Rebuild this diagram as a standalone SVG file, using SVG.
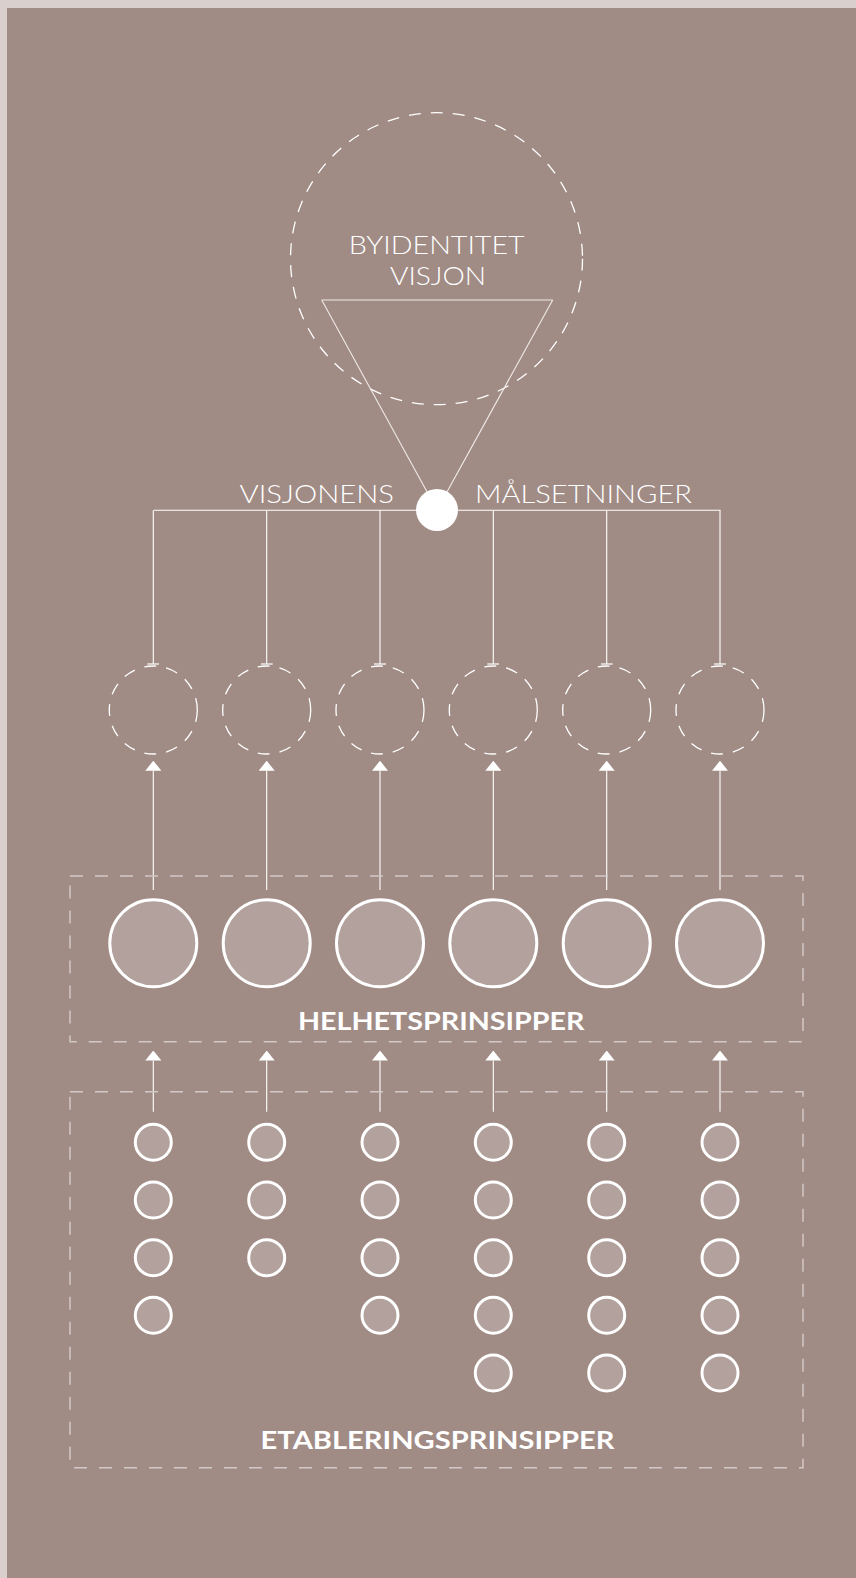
<svg xmlns="http://www.w3.org/2000/svg" width="856" height="1578" viewBox="0 0 856 1578">
<defs>
<style>
.bg{fill:#a08c85}
.frame{fill:#d9d0ce}
.lbl{font-family:Lato,"Open Sans","Liberation Sans",sans-serif;font-weight:300;fill:#ffffff;font-size:25px}
.bold{font-family:Lato,"Open Sans","Liberation Sans",sans-serif;font-weight:700;fill:#ffffff;font-size:25px}
.dashc{fill:none;stroke:#ffffff;stroke-width:1.3;stroke-dasharray:12 10}
.big{fill:#b2a19d;stroke:#ffffff;stroke-width:3}
.small{fill:#b2a19d;stroke:#ffffff;stroke-width:3}
.box{fill:none;stroke:#d2c8c5;stroke-width:1.5;stroke-dasharray:13 12}
.ln{fill:none;stroke:#ffffff;stroke-width:1.1}
.tl{fill:none;stroke:#f0e9e7;stroke-width:1.1}
.arr{fill:none;stroke:#ffffff;stroke-width:1.1;marker-end:url(#ah)}
.tee{fill:none;stroke:#ffffff;stroke-width:1.1;marker-end:url(#tee)}
</style>
<marker id="ah" viewBox="0 0 10 16" refX="0" refY="8" markerWidth="10" markerHeight="16" markerUnits="userSpaceOnUse" orient="auto">
<path d="M0,0 L10,8 L0,16 Z" fill="#ffffff"/>
</marker>
<marker id="tee" viewBox="-1 -6 2 12" refX="0" refY="0" markerWidth="2" markerHeight="12" markerUnits="userSpaceOnUse" orient="auto">
<path d="M0,-6 L0,6" stroke="#ffffff" stroke-width="1.2"/>
</marker>
</defs>
<rect x="0" y="0" width="856" height="1578" class="frame"/>
<rect x="7" y="8" width="849" height="1570" class="bg"/>

<g id="vision">
<circle cx="436.5" cy="258.7" r="146" class="dashc"/>
<text class="lbl" x="436.7" y="254" text-anchor="middle" textLength="176" lengthAdjust="spacingAndGlyphs">BYIDENTITET</text>
<text class="lbl" x="438" y="285" text-anchor="middle" textLength="96" lengthAdjust="spacingAndGlyphs">VISJON</text>
<path d="M321.7,300 L552.7,300" class="tl" stroke-width="1.5"/>
<path d="M321.7,300 L437,510 L552.7,300" class="tl"/>
</g>

<g id="connectors">
<path d="M154,510.3 H720.5" class="ln"/>
<path d="M153.3,510.3 V664" class="tee"/>
<path d="M266.7,510.3 V664" class="tee"/>
<path d="M380,510.3 V664" class="tee"/>
<path d="M493.3,510.3 V664" class="tee"/>
<path d="M606.7,510.3 V664" class="tee"/>
<path d="M720,510.3 V664" class="tee"/>
<path d="M153.3,890 V770.7" class="arr"/>
<path d="M266.7,890 V770.7" class="arr"/>
<path d="M380,890 V770.7" class="arr"/>
<path d="M493.3,890 V770.7" class="arr"/>
<path d="M606.7,890 V770.7" class="arr"/>
<path d="M720,890 V770.7" class="arr"/>
<path d="M153.3,1111.7 V1060.5" class="arr"/>
<path d="M266.7,1111.7 V1060.5" class="arr"/>
<path d="M380,1111.7 V1060.5" class="arr"/>
<path d="M493.3,1111.7 V1060.5" class="arr"/>
<path d="M606.7,1111.7 V1060.5" class="arr"/>
<path d="M720,1111.7 V1060.5" class="arr"/>
</g>

<g id="center-dot">
<circle cx="437" cy="510" r="21" fill="#ffffff"/>
</g>

<g id="goals-label">
<text class="lbl" x="239.5" y="503" textLength="154.5" lengthAdjust="spacingAndGlyphs">VISJONENS</text>
<text class="lbl" x="475" y="503" textLength="217" lengthAdjust="spacingAndGlyphs">MÅLSETNINGER</text>
</g>

<g id="goals">
<circle cx="153.3" cy="710" r="44" class="dashc"/>
<circle cx="266.7" cy="710" r="44" class="dashc"/>
<circle cx="380" cy="710" r="44" class="dashc"/>
<circle cx="493.3" cy="710" r="44" class="dashc"/>
<circle cx="606.7" cy="710" r="44" class="dashc"/>
<circle cx="720" cy="710" r="44" class="dashc"/>
</g>

<g id="helhetsprinsipper">
<rect x="70" y="876" width="733" height="165.7" class="box"/>
<circle cx="153.3" cy="943.3" r="43.5" class="big"/>
<circle cx="266.7" cy="943.3" r="43.5" class="big"/>
<circle cx="380" cy="943.3" r="43.5" class="big"/>
<circle cx="493.3" cy="943.3" r="43.5" class="big"/>
<circle cx="606.7" cy="943.3" r="43.5" class="big"/>
<circle cx="720" cy="943.3" r="43.5" class="big"/>
<text class="bold" x="298" y="1030" textLength="286.5" lengthAdjust="spacingAndGlyphs">HELHETSPRINSIPPER</text>
</g>

<g id="etableringsprinsipper">
<rect x="70" y="1091.7" width="733" height="376" class="box"/>
<g id="col1">
<circle cx="153.3" cy="1142.3" r="18" class="small"/>
<circle cx="153.3" cy="1200" r="18" class="small"/>
<circle cx="153.3" cy="1257.7" r="18" class="small"/>
<circle cx="153.3" cy="1315.3" r="18" class="small"/>
</g>
<g id="col2">
<circle cx="266.7" cy="1142.3" r="18" class="small"/>
<circle cx="266.7" cy="1200" r="18" class="small"/>
<circle cx="266.7" cy="1257.7" r="18" class="small"/>
</g>
<g id="col3">
<circle cx="380" cy="1142.3" r="18" class="small"/>
<circle cx="380" cy="1200" r="18" class="small"/>
<circle cx="380" cy="1257.7" r="18" class="small"/>
<circle cx="380" cy="1315.3" r="18" class="small"/>
</g>
<g id="col4">
<circle cx="493.3" cy="1142.3" r="18" class="small"/>
<circle cx="493.3" cy="1200" r="18" class="small"/>
<circle cx="493.3" cy="1257.7" r="18" class="small"/>
<circle cx="493.3" cy="1315.3" r="18" class="small"/>
<circle cx="493.3" cy="1373" r="18" class="small"/>
</g>
<g id="col5">
<circle cx="606.7" cy="1142.3" r="18" class="small"/>
<circle cx="606.7" cy="1200" r="18" class="small"/>
<circle cx="606.7" cy="1257.7" r="18" class="small"/>
<circle cx="606.7" cy="1315.3" r="18" class="small"/>
<circle cx="606.7" cy="1373" r="18" class="small"/>
</g>
<g id="col6">
<circle cx="720" cy="1142.3" r="18" class="small"/>
<circle cx="720" cy="1200" r="18" class="small"/>
<circle cx="720" cy="1257.7" r="18" class="small"/>
<circle cx="720" cy="1315.3" r="18" class="small"/>
<circle cx="720" cy="1373" r="18" class="small"/>
</g>
<text class="bold" x="260.5" y="1449" textLength="354" lengthAdjust="spacingAndGlyphs">ETABLERINGSPRINSIPPER</text>
</g>
</svg>
